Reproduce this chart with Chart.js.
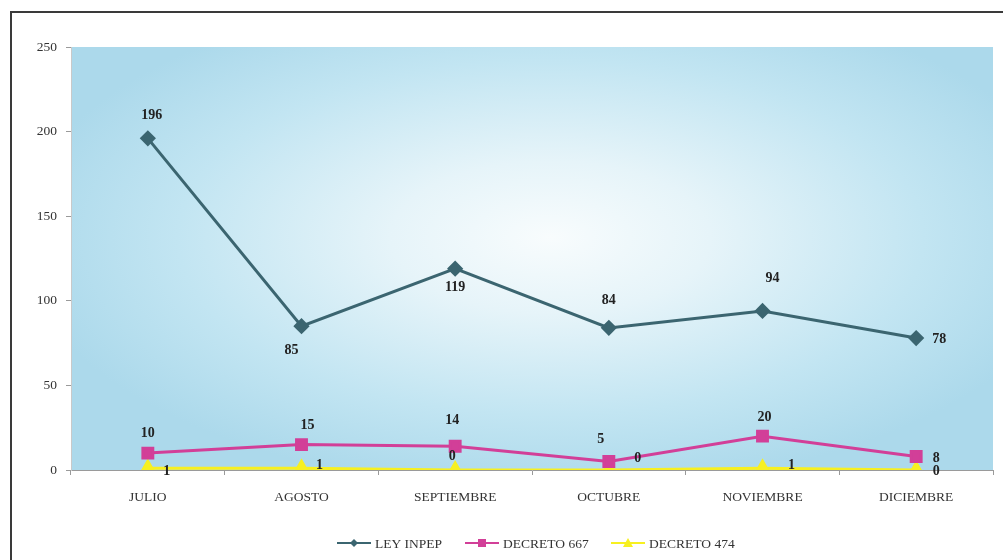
<!DOCTYPE html>
<html>
<head>
<meta charset="utf-8">
<script src="https://cdn.jsdelivr.net/npm/chart.js@4/dist/chart.umd.min.js"></script>
<style>
  html, body { margin: 0; padding: 0; background: #fff; }
  #wrap { position: relative; width: 1003px; height: 560px; }
</style>
</head>
<body>
<div id="wrap"><canvas id="chart-meses"></canvas></div>
<script>
(function() {
  'use strict';

  // ── Data ──────────────────────────────────────────────────────
  const MESES       = ['JULIO', 'AGOSTO', 'SEPTIEMBRE', 'OCTUBRE', 'NOVIEMBRE', 'DICIEMBRE'];
  const LEY_INPEP   = [196, 85, 119, 84, 94, 78];
  const DECRETO_667 = [10, 15, 14, 5, 20, 8];
  const DECRETO_474 = [1, 1, 0, 0, 1, 0];
  const Y_TICKS     = [0, 50, 100, 150, 200, 250];

  // where each value label sits, relative to its point (px)
  const LABEL_OFFSETS = [
    [[4, -23], [-10, 24], [0, 19], [0, -27], [10, -33], [23, 1]],
    [[0, -20], [6, -19], [-3, -26], [-8, -22], [2, -19], [20, 2]],
    [[19, 3], [18, -3], [-3, -14], [29, -12], [29, -3], [20, 1]]
  ];

  const FONT = "'Liberation Serif', 'DejaVu Serif', serif";
  const COLORS = { ley: '#3b6570', d667: '#d23f98', d474: '#f7f020', text: '#333', axis: '#9a9a9a' };

  // ── Plugins ───────────────────────────────────────────────────
  const backdrop = {
    id: 'backdrop',
    beforeDraw(chart) {
      const { ctx, chartArea: a } = chart;
      ctx.save();
      // outer frame (left + top edges visible)
      ctx.strokeStyle = '#3a3a3a';
      ctx.lineWidth = 2;
      ctx.beginPath();
      ctx.moveTo(11, 560);
      ctx.lineTo(11, 12);
      ctx.lineTo(1003, 12);
      ctx.stroke();

      // plot area: light blue with a white glow in the middle
      const cx = a.left + a.width * 0.52, cy = a.top + a.height * 0.45;
      ctx.beginPath();
      ctx.rect(a.left, a.top, a.width, a.height);
      ctx.clip();
      ctx.translate(cx, cy);
      ctx.scale(2.1, 1);
      const g = ctx.createRadialGradient(0, 0, 0, 0, 0, a.height * 0.6);
      g.addColorStop(0, '#f8fcfd');
      g.addColorStop(0.3, '#e6f4f9');
      g.addColorStop(0.7, '#c2e5f2');
      g.addColorStop(1, '#acd9eb');
      ctx.fillStyle = g;
      ctx.fillRect(-a.width, -a.height, a.width * 2, a.height * 2);
      ctx.restore();
    }
  };

  const valueLabels = {
    id: 'valueLabels',
    afterDatasetsDraw(chart) {
      const { ctx } = chart;
      ctx.save();
      ctx.font = 'bold 14px ' + FONT;
      ctx.fillStyle = '#222';
      ctx.textAlign = 'center';
      ctx.textBaseline = 'middle';
      chart.data.datasets.forEach((ds, i) => {
        chart.getDatasetMeta(i).data.forEach((pt, j) => {
          const off = LABEL_OFFSETS[i][j];
          ctx.fillText(String(ds.data[j]), pt.x + off[0], pt.y + off[1]);
        });
      });
      ctx.restore();
    }
  };

  function drawMarker(ctx, style, x, y, r, color) {
    ctx.fillStyle = color;
    ctx.beginPath();
    if (style === 'rectRot') {
      ctx.moveTo(x, y - r); ctx.lineTo(x + r, y); ctx.lineTo(x, y + r); ctx.lineTo(x - r, y);
    } else if (style === 'rect') {
      ctx.rect(x - r, y - r, r * 2, r * 2);
    } else {
      ctx.moveTo(x, y - r); ctx.lineTo(x + r, y + r * 0.8); ctx.lineTo(x - r, y + r * 0.8);
    }
    ctx.closePath();
    ctx.fill();
  }

  const lineLegend = {
    id: 'lineLegend',
    afterDraw(chart) {
      const { ctx } = chart;
      const items = [
        { x: 337, text: 'LEY INPEP',   color: COLORS.ley,  style: 'rectRot', r: 4 },
        { x: 465, text: 'DECRETO 667', color: COLORS.d667, style: 'rect',    r: 4 },
        { x: 611, text: 'DECRETO 474', color: COLORS.d474, style: 'tri',     r: 5 }
      ];
      const y = 543;
      ctx.save();
      ctx.font = '13.5px ' + FONT;
      ctx.textBaseline = 'middle';
      ctx.textAlign = 'left';
      items.forEach(it => {
        ctx.strokeStyle = it.color;
        ctx.lineWidth = 2;
        ctx.beginPath();
        ctx.moveTo(it.x, y);
        ctx.lineTo(it.x + 34, y);
        ctx.stroke();
        drawMarker(ctx, it.style, it.x + 17, y, it.r, it.color);
        ctx.fillStyle = COLORS.text;
        ctx.fillText(it.text, it.x + 38, y + 1);
      });
      ctx.restore();
    }
  };

  // ── Chart ─────────────────────────────────────────────────────
  new Chart(document.getElementById('chart-meses'), {
    type: 'line',
    data: {
      labels: MESES,
      datasets: [
        {
          label: 'LEY INPEP', data: LEY_INPEP,
          borderColor: COLORS.ley, backgroundColor: COLORS.ley,
          borderWidth: 3, pointStyle: 'rectRot', pointRadius: 6, tension: 0
        },
        {
          label: 'DECRETO 667', data: DECRETO_667,
          borderColor: COLORS.d667, backgroundColor: COLORS.d667,
          borderWidth: 3, pointStyle: 'rect', pointRadius: 7, tension: 0
        },
        {
          label: 'DECRETO 474', data: DECRETO_474,
          borderColor: COLORS.d474, backgroundColor: COLORS.d474,
          borderWidth: 3, pointStyle: 'triangle', pointRadius: 7, tension: 0
        }
      ]
    },
    options: {
      responsive: true,
      maintainAspectRatio: false,
      animation: false,
      layout: { padding: { top: 47, right: 9, left: 20, bottom: 0 } },
      plugins: {
        legend: { display: false },
        tooltip: { enabled: false }
      },
      scales: {
        x: {
          offset: true,
          afterFit: (s) => { s.height = 90; },
          grid: { offset: true, drawOnChartArea: false, tickLength: 5, color: COLORS.axis },
          border: { color: COLORS.axis },
          ticks: { font: { family: FONT, size: 13.5 }, color: COLORS.text, padding: 14, maxRotation: 0 }
        },
        y: {
          min: 0, max: 250,
          afterFit: (s) => { s.width = 51; },
          afterBuildTicks: (s) => { s.ticks = Y_TICKS.map(v => ({ value: v })); },
          grid: { drawOnChartArea: false, tickLength: 5, color: COLORS.axis },
          border: { color: '#c9c9c9' },
          ticks: { font: { family: FONT, size: 13.5 }, color: COLORS.text, padding: 9 }
        }
      }
    },
    plugins: [backdrop, valueLabels, lineLegend]
  });
})();
</script>
</body>
</html>
